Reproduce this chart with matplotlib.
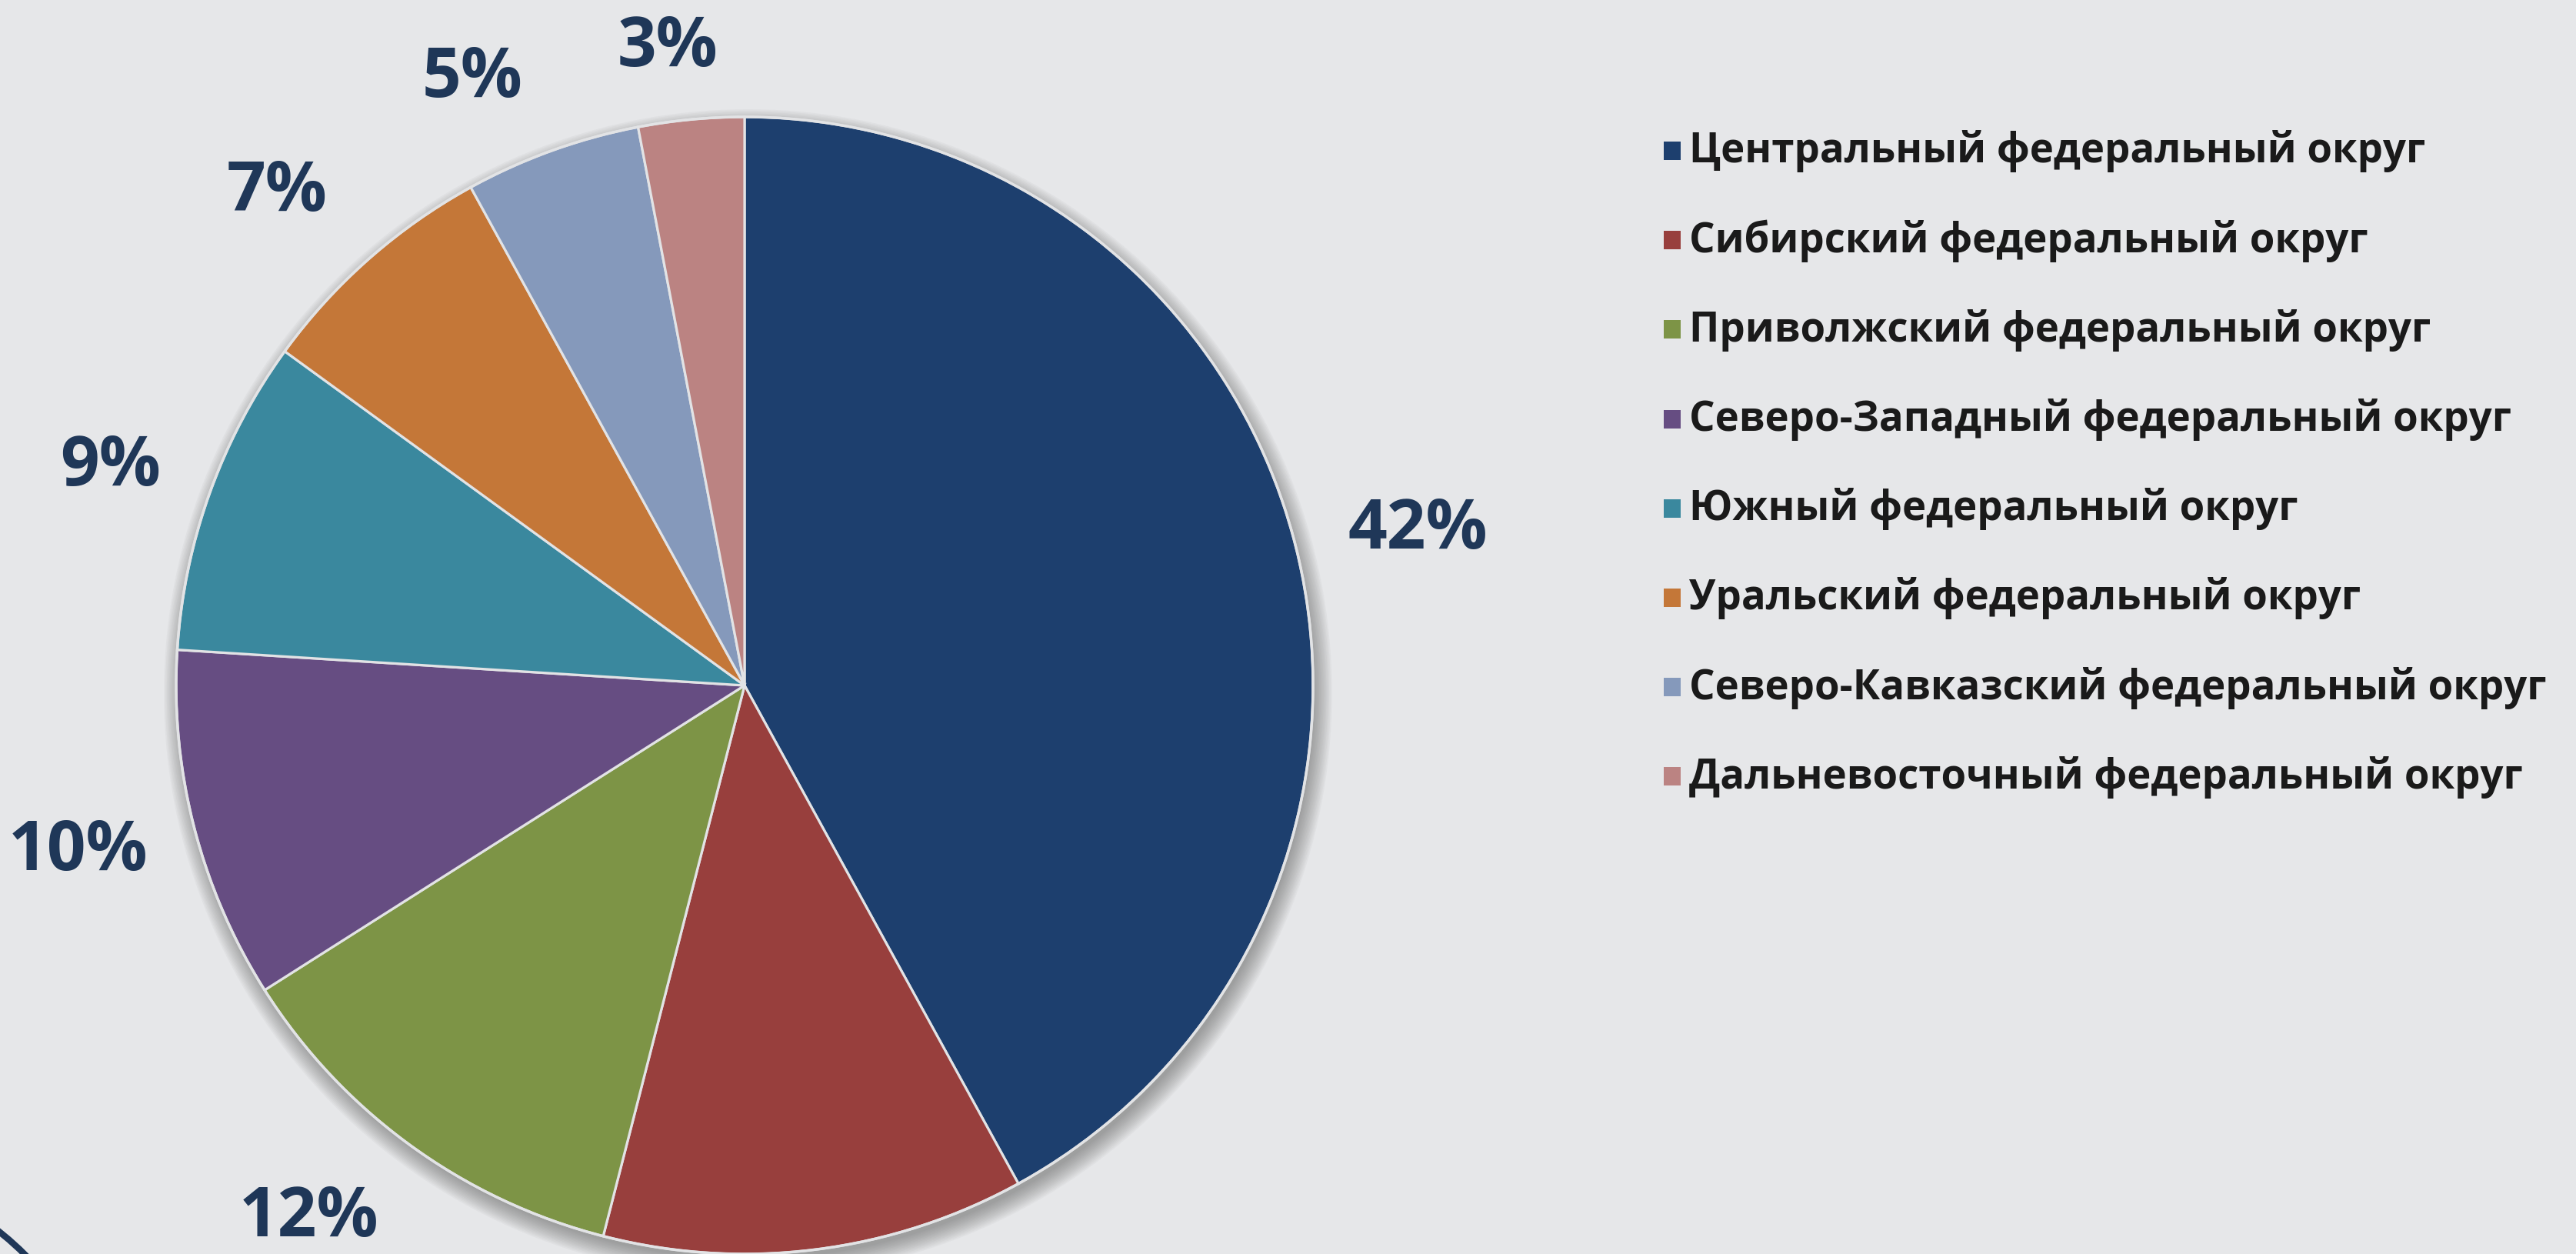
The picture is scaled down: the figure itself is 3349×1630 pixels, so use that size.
import numpy as np
import matplotlib
matplotlib.use('Agg')
import matplotlib.pyplot as plt
from matplotlib.patches import Circle, Arc

#####################################################################

districts = ['Центральный федеральный округ',
             'Сибирский федеральный округ',
             'Приволжский федеральный округ',
             'Северо-Западный федеральный округ',
             'Южный федеральный округ',
             'Уральский федеральный округ',
             'Северо-Кавказский федеральный округ',
             'Дальневосточный федеральный округ']
shares = [42, 12, 12, 10, 9, 7, 5, 3]
colors = ['#1D3F6E', '#983F3D', '#7D9446', '#664D82',
          '#3A889E', '#C47738', '#8599BB', '#BB8382']

# label placement tweaks (radius factor, angle shift in degrees)
lab_r = [1.216, 1.21, 1.21, 1.208, 1.18, 1.196, 1.17, 1.13]
lab_da = [-1.4, 0, -3.3, -0.4, 0.8, 2.1, 4.4, 1.5]

bg = '#E6E7E9'
navy = '#1F3758'
fnt = 'Open Sans'

#####################################################################

W, H = 3349, 1631
fig = plt.figure(figsize=(W/100, H/100), dpi=100, facecolor=bg)

cx, cy, R = 968, 1631-892, 739
ax = fig.add_axes([(cx-R)/W, (cy-R)/H, 2*R/W, 2*R/H])

# soft shadow under the pie
for k in range(14):
    ax.add_patch(Circle((0.006, -0.014), 0.995 + 0.0025*k, color='#555555',
                        alpha=0.045, lw=0, zorder=0, clip_on=False))

wedges, _ = ax.pie(shares, colors=colors, startangle=90, counterclock=False,
                   radius=1.0,
                   wedgeprops=dict(edgecolor='#E2E3E5', linewidth=2.3))
ax.set_xlim(-1, 1)
ax.set_ylim(-1, 1)
ax.set_aspect('equal')
ax.axis('off')
for w in wedges:
    w.set_zorder(2)
    w.set_clip_on(False)
ax.add_patch(Circle((0, 0), 1.0, fill=False, ec='#E2E3E5', lw=2.5, zorder=3,
                    clip_on=False))

for w, v, rf, da in zip(wedges, shares, lab_r, lab_da):
    ang = np.deg2rad((w.theta1 + w.theta2)/2 + da)
    ax.text(rf*np.cos(ang), rf*np.sin(ang), f'{v}%', ha='center', va='center',
            fontsize=64, fontweight='bold', family=fnt,
            color=navy, clip_on=False)

# legend drawn by hand in figure coords
y0, dy = 1631-197, 116.2
for i, (name, c) in enumerate(zip(districts, colors)):
    y = y0 - i*dy
    fig.patches.append(plt.Rectangle((2163/W, (y-12)/H), 22/W, 24/H,
                                     transform=fig.transFigure, color=c,
                                     lw=0))
    fig.text(2196/W, y/H, name, ha='left', va='center', fontsize=38,
             fontweight='bold', family=fnt, color='#1A1A1A')

# decorative arc in lower left corner
arc = Arc((-250/W, (1631-1915)/H), 800/W, 800/H, theta1=20, theta2=70,
          transform=fig.transFigure, color=navy, lw=6)
fig.patches.append(arc)

fig.savefig('out.png', dpi=100, facecolor=bg)
